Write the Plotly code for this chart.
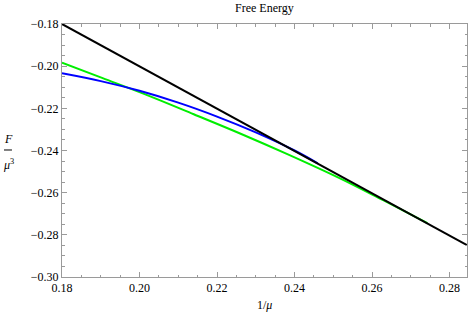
import plotly.graph_objects as go

# Data
black_x = [0.18, 0.2845]
black_y = [-0.18, -0.2849]

green_x = [0.180, 0.1905, 0.2026, 0.2140, 0.2258, 0.2380, 0.2516, 0.2630, 0.2743]
green_y = [-0.1984, -0.2057, -0.2142, -0.2228, -0.2318, -0.2416, -0.2531, -0.2637, -0.2744]

blue_x = [0.180, 0.190, 0.200, 0.210, 0.220, 0.230, 0.240, 0.2460]
blue_y = [-0.2034, -0.2071, -0.2117, -0.2173, -0.2239, -0.2314, -0.2400, -0.2461]

x_ticks = [0.18, 0.20, 0.22, 0.24, 0.26, 0.28]
y_ticks = [-0.18, -0.20, -0.22, -0.24, -0.26, -0.28, -0.30]

FONT = "Liberation Serif"
FRAME = "#9a9a9a"

fig = go.Figure()
fig.add_trace(go.Scatter(x=green_x, y=green_y, mode="lines", line_shape="spline",
                         line=dict(color="#00ee00", width=2), showlegend=False))
fig.add_trace(go.Scatter(x=blue_x, y=blue_y, mode="lines", line_shape="spline",
                         line=dict(color="#0000ff", width=2), showlegend=False))
fig.add_trace(go.Scatter(x=black_x, y=black_y, mode="lines",
                         line=dict(color="black", width=2), showlegend=False))

axis_common = dict(showgrid=False, zeroline=False, showline=True, linecolor=FRAME,
                   linewidth=1, mirror="allticks", ticks="inside", ticklen=5,
                   tickcolor=FRAME, tickwidth=1,
                   tickfont=dict(family=FONT, size=12, color="black"),
                   tickformat=".2f",
                   minor=dict(ticks="inside", ticklen=2.5, tickcolor=FRAME, dtick=0.005,
                              showgrid=False))

fig.update_xaxes(range=[0.18, 0.2845], tickvals=x_ticks, **axis_common)
fig.update_yaxes(range=[-0.30, -0.18], tickvals=y_ticks, **axis_common)

fig.update_layout(
    width=471, height=318,
    margin=dict(l=62, r=4, t=24, b=41),
    plot_bgcolor="white", paper_bgcolor="white",
    font=dict(family=FONT, size=12, color="black"),
    hovermode=False,
    annotations=[
        dict(text="Free Energy", x=0.5, y=1.063, xref="paper", yref="paper",
             showarrow=False, xanchor="center", yanchor="middle",
             font=dict(family=FONT, size=12)),
        dict(text="1/<i>μ</i>", x=0.5, y=-0.11, xref="paper", yref="paper",
             showarrow=False, xanchor="center", yanchor="middle",
             font=dict(family=FONT, size=12)),
        dict(text="<i>F</i>", x=-0.133, y=0.545, xref="paper", yref="paper",
             showarrow=False, xanchor="center", yanchor="middle",
             font=dict(family=FONT, size=12)),
        dict(text="<i>μ</i><sup>3</sup>", x=-0.131, y=0.445, xref="paper", yref="paper",
             showarrow=False, xanchor="center", yanchor="middle",
             font=dict(family=FONT, size=12)),
    ],
    shapes=[
        dict(type="line", xref="paper", yref="paper", x0=-0.1432, x1=-0.1235,
             y0=0.502, y1=0.502, line=dict(color="black", width=1)),
    ],
)

fig.write_html("out.html", config={"displayModeBar": False, "staticPlot": True},
               post_script="document.body.style.margin='0';document.body.style.padding='0';")
